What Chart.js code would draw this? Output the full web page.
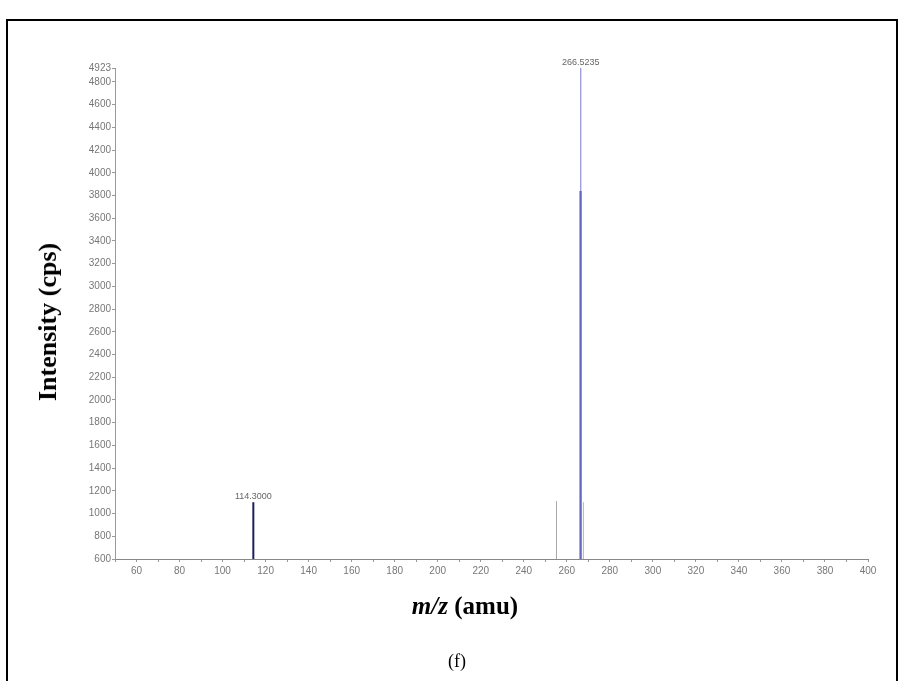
<!DOCTYPE html>
<html><head><meta charset="utf-8">
<script src="https://cdn.jsdelivr.net/npm/chart.js@4"></script>
<style>
html,body{margin:0;padding:0;background:#fff;width:899px;height:681px;overflow:hidden;}
#frame{position:absolute;left:6px;top:19px;width:888px;height:700px;border:2px solid #000;}
#wrap{position:absolute;left:0;top:0;width:899px;height:681px;}
.ytitle{position:absolute;left:48px;top:322px;transform:translate(-50%,-50%) rotate(-90deg);font:bold 26px "Liberation Serif";white-space:nowrap;color:#000;}
.xtitle{position:absolute;left:465px;top:606px;transform:translate(-50%,-50%);font:bold 25px "Liberation Serif";white-space:nowrap;color:#000;}
.cap{position:absolute;left:457px;top:661px;transform:translate(-50%,-50%);font:18px "Liberation Serif";color:#000;}
</style></head>
<body>
<div id="frame"></div>
<div id="wrap"><canvas id="c" width="899" height="681"></canvas></div>
<div class="ytitle">Intensity (cps)</div>
<div class="xtitle"><i>m/z</i> (amu)</div>
<div class="cap">(f)</div>
<script>
// Data
const peakMz = [114.3, 255.2, 266.5, 266.4, 267.7];
const peakIntensity = [1100, 1110, 4923, 3840, 1100];
const peakLabels = ['114.3000', '', '266.5235', '', ''];
const xTickLabels = [60, 80, 100, 120, 140, 160, 180, 200, 220, 240, 260, 280, 300, 320, 340, 360, 380, 400];
const yTickValues = [600, 800, 1000, 1200, 1400, 1600, 1800, 2000, 2200, 2400, 2600, 2800, 3000, 3200, 3400, 3600, 3800, 4000, 4200, 4400, 4600, 4800, 4923];
const xMin = 50, xMax = 400, yMin = 600, yMax = 4923;

// Styles
const peakColors = ['#1e1e5c', '#a8a8a8', '#7a7ad0', '#3a3aa8', '#b4b4b4'];
const peakWidths = [2, 1, 1, 2, 1];

const datasets = peakMz.map((mz, i) => ({
  data: [{x: mz, y: yMin}, {x: mz, y: peakIntensity[i]}],
  borderColor: peakColors[i],
  borderWidth: peakWidths[i],
  pointRadius: 0,
  fill: false,
  tension: 0
}));

const peakLabelPlugin = {
  id: 'peakLabels',
  afterDatasetsDraw(chart) {
    const ctx = chart.ctx, xs = chart.scales.x, ys = chart.scales.y;
    ctx.save();
    ctx.font = '9px "Liberation Sans", Arial, sans-serif';
    ctx.fillStyle = '#666';
    ctx.textAlign = 'center';
    ctx.textBaseline = 'bottom';
    peakLabels.forEach((t, i) => {
      if (!t) return;
      ctx.fillText(t, xs.getPixelForValue(peakMz[i]), ys.getPixelForValue(peakIntensity[i]) - 1);
    });
    ctx.restore();
  }
};

new Chart(document.getElementById('c'), {
  type: 'line',
  data: { datasets },
  plugins: [peakLabelPlugin],
  options: {
    responsive: false,
    animation: false,
    layout: { padding: { top: 68, right: 31, left: 0, bottom: 0 } },
    plugins: { legend: { display: false }, tooltip: { enabled: false } },
    scales: {
      x: {
        type: 'linear', min: xMin, max: xMax,
        afterBuildTicks(scale) {
          const t = [];
          for (let v = xMin; v <= xMax; v += 10) t.push({ value: v });
          scale.ticks = t;
        },
        afterFit(scale) { scale.height = 681 - 559; },
        ticks: {
          autoSkip: false, maxRotation: 0, padding: 3,
          color: '#777', font: { size: 10, family: '"Liberation Sans", Arial, sans-serif' },
          callback: v => xTickLabels.includes(v) ? String(v) : ''
        },
        grid: { drawOnChartArea: false, drawTicks: true, tickLength: 3, color: '#999' },
        border: { display: true, color: '#888', width: 1 }
      },
      y: {
        type: 'linear', min: yMin, max: yMax,
        afterBuildTicks(scale) { scale.ticks = yTickValues.map(v => ({ value: v })); },
        afterFit(scale) { scale.width = 115; },
        ticks: {
          autoSkip: false, padding: 1,
          color: '#777', font: { size: 10, family: '"Liberation Sans", Arial, sans-serif' },
          callback: v => String(v)
        },
        grid: { drawOnChartArea: false, drawTicks: true, tickLength: 3, color: '#999' },
        border: { display: true, color: '#999', width: 1 }
      }
    }
  }
});
</script>
</body></html>
